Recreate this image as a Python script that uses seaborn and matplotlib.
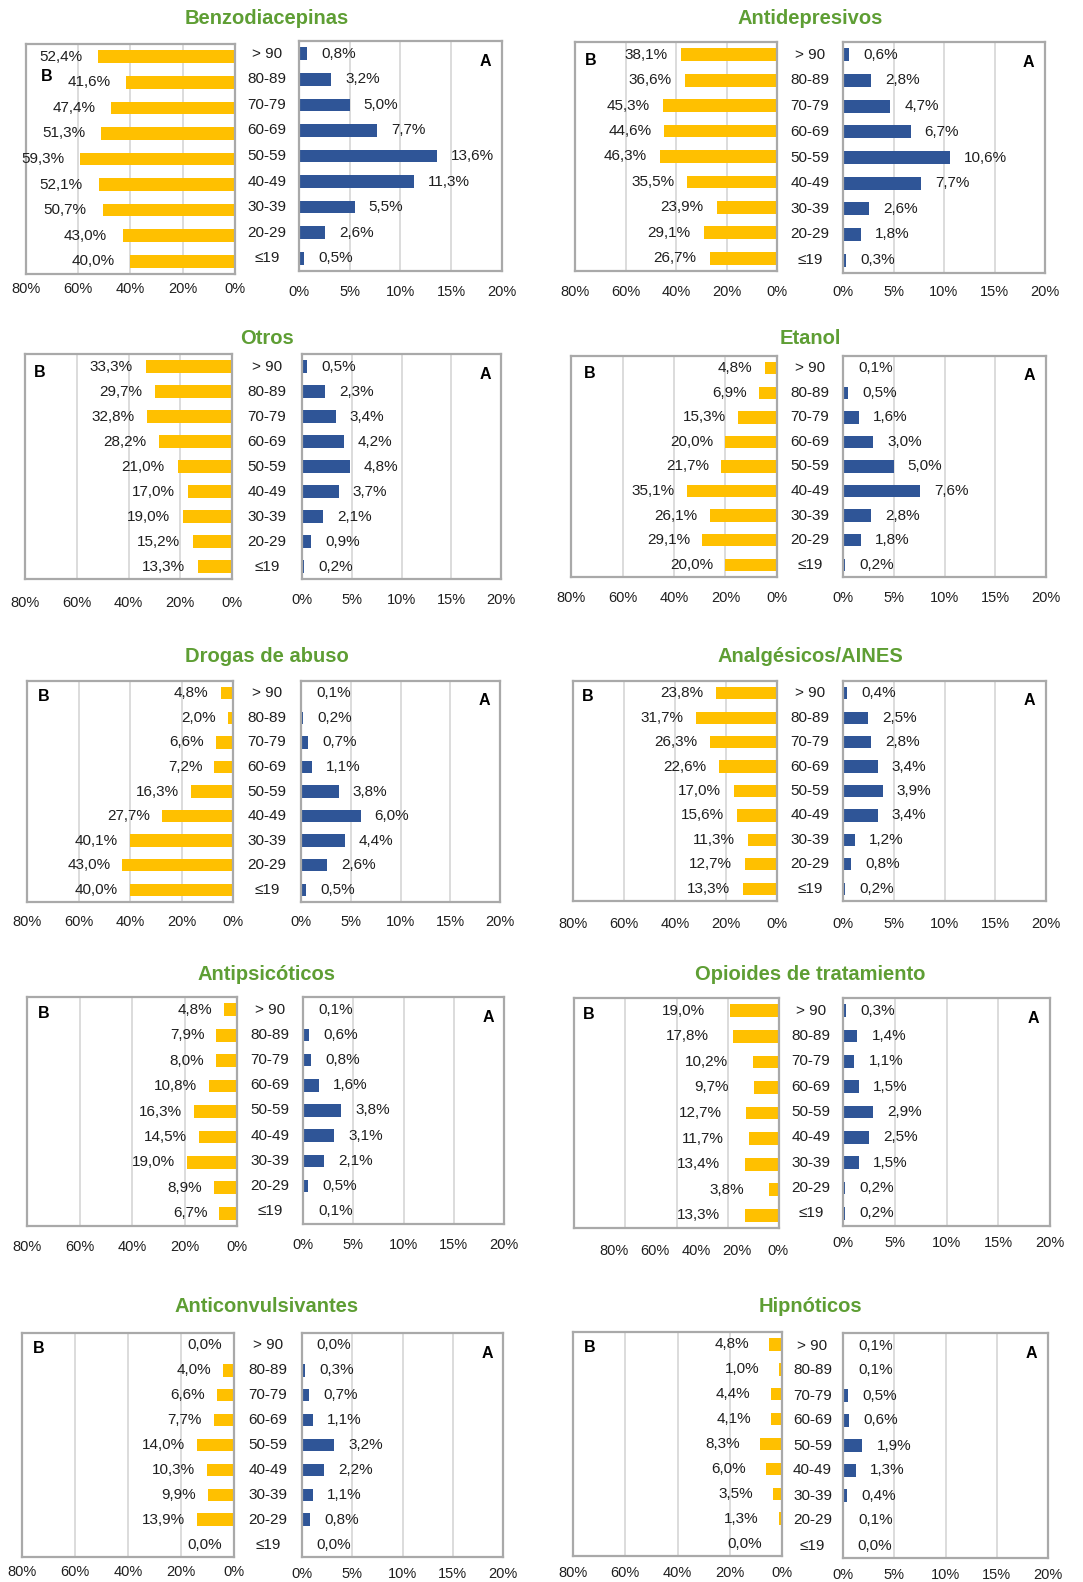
import matplotlib
matplotlib.use('Agg')
import matplotlib.pyplot as plt
import matplotlib.transforms as mtransforms
import seaborn as sns

sns.set_theme(style='white')
plt.rcParams['font.family'] = ['Liberation Sans', 'DejaVu Sans']

# ---------------- data ----------------
ages = ['> 90', '80-89', '70-79', '60-69', '50-59', '40-49', '30-39', '20-29', '≤19']
b_ticks = [80, 60, 40, 20, 0]
a_ticks = [0, 5, 10, 15, 20]

b_benzo = [52.4, 41.6, 47.4, 51.3, 59.3, 52.1, 50.7, 43.0, 40.0]
a_benzo = [0.8, 3.2, 5.0, 7.7, 13.6, 11.3, 5.5, 2.6, 0.5]
b_antidep = [38.1, 36.6, 45.3, 44.6, 46.3, 35.5, 23.9, 29.1, 26.7]
a_antidep = [0.6, 2.8, 4.7, 6.7, 10.6, 7.7, 2.6, 1.8, 0.3]
b_otros = [33.3, 29.7, 32.8, 28.2, 21.0, 17.0, 19.0, 15.2, 13.3]
a_otros = [0.5, 2.3, 3.4, 4.2, 4.8, 3.7, 2.1, 0.9, 0.2]
b_etanol = [4.8, 6.9, 15.3, 20.0, 21.7, 35.1, 26.1, 29.1, 20.0]
a_etanol = [0.1, 0.5, 1.6, 3.0, 5.0, 7.6, 2.8, 1.8, 0.2]
b_drogas = [4.8, 2.0, 6.6, 7.2, 16.3, 27.7, 40.1, 43.0, 40.0]
a_drogas = [0.1, 0.2, 0.7, 1.1, 3.8, 6.0, 4.4, 2.6, 0.5]
b_analg = [23.8, 31.7, 26.3, 22.6, 17.0, 15.6, 11.3, 12.7, 13.3]
a_analg = [0.4, 2.5, 2.8, 3.4, 3.9, 3.4, 1.2, 0.8, 0.2]
b_antipsic = [4.8, 7.9, 8.0, 10.8, 16.3, 14.5, 19.0, 8.9, 6.7]
a_antipsic = [0.1, 0.6, 0.8, 1.6, 3.8, 3.1, 2.1, 0.5, 0.1]
b_opioides = [19.0, 17.8, 10.2, 9.7, 12.7, 11.7, 13.4, 3.8, 13.3]
a_opioides = [0.3, 1.4, 1.1, 1.5, 2.9, 2.5, 1.5, 0.2, 0.2]
b_anticonv = [0.0, 4.0, 6.6, 7.7, 14.0, 10.3, 9.9, 13.9, 0.0]
a_anticonv = [0.0, 0.3, 0.7, 1.1, 3.2, 2.2, 1.1, 0.8, 0.0]
b_hipn = [4.8, 1.0, 4.4, 4.1, 8.3, 6.0, 3.5, 1.3, 0.0]
a_hipn = [0.1, 0.1, 0.5, 0.6, 1.9, 1.3, 0.4, 0.1, 0.0]

# ---------------- layout (pixels) ----------------
W, H = 1083, 1582
panels = [
    dict(title='Benzodiacepinas', b=b_benzo, a=a_benzo, B=(26, 235, 44, 274), A=(299, 502, 41, 271),
         tx=267, ty=18, bdist=13, adist=19, boff=16, Bpos=(0.10, 0.86)),
    dict(title='Antidepresivos', b=b_antidep, a=a_antidep, B=(575, 777, 42, 271), A=(843, 1045, 42, 273),
         tx=810, ty=18, bdist=19, adist=17, boff=13, Bpos=(0.08, 0.92)),
    dict(title='Otros', b=b_otros, a=a_otros, B=(25, 232, 354, 579), A=(302, 501, 354, 579),
         tx=267, ty=338, bdist=22, adist=19, boff=13, Bpos=(0.07, 0.92)),
    dict(title='Etanol', b=b_etanol, a=a_etanol, B=(571, 777, 356, 577), A=(843, 1046, 356, 577),
         tx=810, ty=338, bdist=19, adist=19, boff=12, Bpos=(0.09, 0.92)),
    dict(title='Drogas de abuso', b=b_drogas, a=a_drogas, B=(27, 233, 681, 902), A=(301, 500, 681, 902),
         tx=267, ty=657, bdist=18, adist=18, boff=12, Bpos=(0.08, 0.93)),
    dict(title='Analgésicos/AINES', b=b_analg, a=a_analg, B=(573, 777, 681, 901), A=(843, 1046, 681, 901),
         tx=810, ty=657, bdist=21, adist=21, boff=13, Bpos=(0.07, 0.93)),
    dict(title='Antipsicóticos', b=b_antipsic, a=a_antipsic, B=(27, 237, 997, 1226), A=(303, 504, 997, 1224),
         tx=267, ty=975, bdist=19, adist=19, boff=12, Bpos=(0.08, 0.93)),
    dict(title='Opioides de tratamiento', b=b_opioides, a=a_opioides, B=(574, 779, 998, 1228), A=(843, 1050, 998, 1226),
         tx=810, ty=975, bdist=21, adist=15, boff=25, Bpos=(0.07, 0.93), btick_x=(614, 778)),
    dict(title='Anticonvulsivantes', b=b_anticonv, a=a_anticonv, B=(22, 234, 1333, 1557), A=(302, 503, 1333, 1557),
         tx=267, ty=1307, bdist=13, adist=15, boff=12, Bpos=(0.08, 0.93)),
    dict(title='Hipnóticos', b=b_hipn, a=a_hipn, B=(573, 782, 1332, 1556), A=(843, 1048, 1333, 1558),
         tx=810, ty=1307, bdist=15, adist=15, boff=20, Bpos=(0.08, 0.93)),
]

YELLOW = '#FFC000'
BLUE = '#2F5597'
GREEN = '#5E9E34'
FRAME = '#A9A9A9'
GRID = '#D9D9D9'
TXT = '#1F1F1F'

fig = plt.figure(figsize=(W / 100, H / 100), dpi=100)
fig.patch.set_facecolor('white')


def rect(box):
    x0, x1, y0, y1 = box
    return [x0 / W, 1 - y1 / H, (x1 - x0) / W, (y1 - y0) / H]


def fmt(v):
    return f"{v:.1f}".replace('.', ',') + '%'


def style_axes(ax, ticks, lim, dist):
    ax.set_xlim(*lim)
    ax.set_ylim(8.5, -0.5)
    ax.set_xticks(ticks)
    ax.set_xticklabels([f"{t}%" for t in ticks], fontsize=10.5, color=TXT)
    ax.tick_params(axis='x', length=0, pad=max(dist - 5, 1) * 0.72)
    ax.set_yticks([])
    ax.set_xlabel('')
    ax.set_ylabel('')
    ax.grid(axis='x', color=GRID, linewidth=1.3)
    ax.set_axisbelow(True)
    for s in ax.spines.values():
        s.set_visible(True)
        s.set_color(FRAME)
        s.set_linewidth(1.6)


for p in panels:
    axB = fig.add_axes(rect(p['B']))
    axA = fig.add_axes(rect(p['A']))

    sns.barplot(x=p['b'], y=ages, orient='h', color=YELLOW, width=0.5,
                linewidth=0, saturation=1, ax=axB)
    sns.barplot(x=p['a'], y=ages, orient='h', color=BLUE, width=0.5,
                linewidth=0, saturation=1, ax=axA)

    style_axes(axB, b_ticks, (80, 0), p['bdist'])
    style_axes(axA, a_ticks, (0, 20), p['adist'])

    if 'btick_x' in p:
        axB.set_xticklabels([])
        x0, x1 = p['btick_x']
        y1 = p['B'][3]
        axT = fig.add_axes(rect((x0, x1, y1 - 1, y1)))
        axT.set_xlim(80, 0)
        axT.set_xticks(b_ticks)
        axT.set_xticklabels([f"{t}%" for t in b_ticks], fontsize=10.5, color=TXT)
        axT.tick_params(axis='x', length=0, pad=(p['bdist'] - 5) * 0.72)
        axT.set_yticks([])
        axT.patch.set_alpha(0)
        for s in axT.spines.values():
            s.set_visible(False)

    for i, v in enumerate(p['b']):
        axB.annotate(fmt(v), xy=(v, i), xytext=(-p['boff'] * 0.72, 0), textcoords='offset points',
                     ha='right', va='center', fontsize=11, color=TXT)
    for i, v in enumerate(p['a']):
        axA.annotate(fmt(v), xy=(v, i), xytext=(14 * 0.72, 0), textcoords='offset points',
                     ha='left', va='center', fontsize=11, color=TXT)

    axB.text(p['Bpos'][0], p['Bpos'][1], 'B', transform=axB.transAxes, ha='center', va='center',
             fontsize=11.5, fontweight='bold', color='black')
    axA.text(0.92, 0.91, 'A', transform=axA.transAxes, ha='center', va='center',
             fontsize=11.5, fontweight='bold', color='black')

    # age labels between the two halves
    xc = (p['B'][1] + p['A'][0]) / 2 / W
    tr = mtransforms.blended_transform_factory(fig.transFigure, axA.transData)
    for i, lab in enumerate(ages):
        fig.text(xc, i, lab, transform=tr, ha='center', va='center', fontsize=11, color=TXT)

    fig.text(p['tx'] / W, 1 - p['ty'] / H, p['title'], ha='center', va='center',
             fontsize=14.5, fontweight='bold', color=GREEN)

fig.savefig('out.png', dpi=100, facecolor='white')
